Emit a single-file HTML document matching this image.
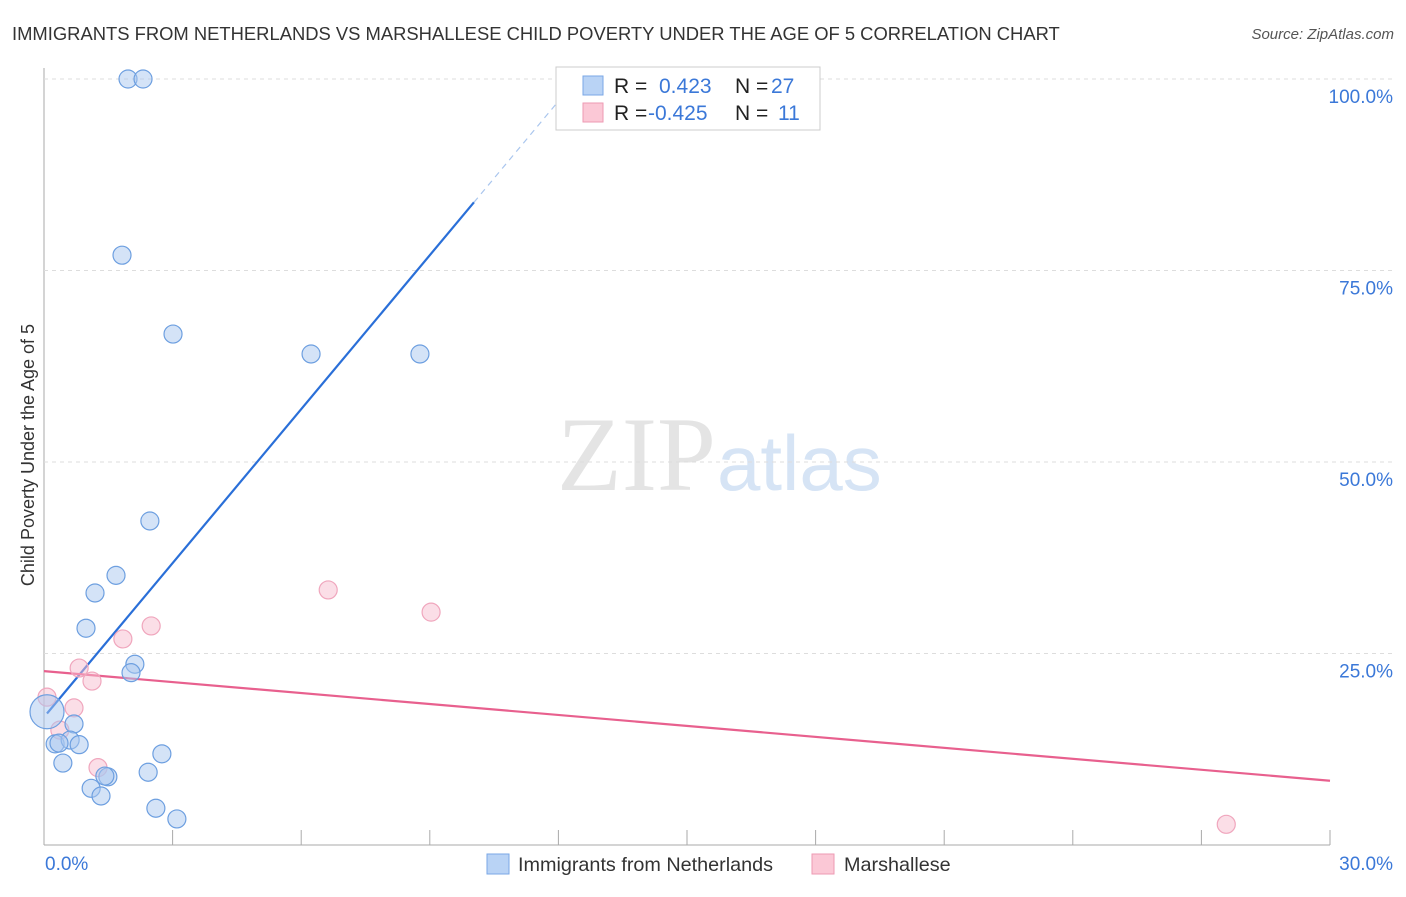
<!DOCTYPE html>
<html><head><meta charset="utf-8"><style>
body{margin:0;background:#fff;font-family:"Liberation Sans",sans-serif;}
</style></head><body>
<svg width="1406" height="892" xmlns="http://www.w3.org/2000/svg" id="svg">
<text x="12" y="40" font-size="18.4" fill="#333">IMMIGRANTS FROM NETHERLANDS VS MARSHALLESE CHILD POVERTY UNDER THE AGE OF 5 CORRELATION CHART</text>
<text x="1394" y="39" font-size="15" fill="#555" font-style="italic" text-anchor="end">Source: ZipAtlas.com</text>
<text x="716" y="490" font-size="106" fill="#e4e4e4" text-anchor="end" font-family="Liberation Serif,serif">ZIP</text>
<text x="717" y="490" font-size="78" fill="#d6e4f5">atlas</text>
<text transform="translate(34,455) rotate(-90)" font-size="18" fill="#333" text-anchor="middle">Child Poverty Under the Age of 5</text>
<g id="grid"></g><g id="lines"></g><g id="pts"></g>
<rect x="556" y="67" width="264" height="63" fill="#fff" stroke="#ccc"/>
<rect x="583" y="76" width="20" height="19" fill="#b9d3f5" stroke="#7aa7e6"/>
<rect x="583" y="103" width="20" height="19" fill="#fbc8d6" stroke="#ee9ab3"/>
<g font-size="21">
<text x="614" y="93" fill="#222">R =</text><text x="659" y="93" fill="#3b78d8">0.423</text><text x="735" y="93" fill="#222">N =</text><text x="771" y="93" fill="#3b78d8">27</text>
<text x="614" y="120" fill="#222">R =</text><text x="648" y="120" fill="#3b78d8">-0.425</text><text x="735" y="120" fill="#222">N =</text><text x="778" y="120" fill="#3b78d8">11</text>
</g>
<rect x="487" y="854" width="22" height="20" fill="#b9d3f5" stroke="#7aa7e6"/>
<text x="518" y="871" font-size="19.8" fill="#333">Immigrants from Netherlands</text>
<rect x="812" y="854" width="22" height="20" fill="#fbc8d6" stroke="#ee9ab3"/>
<text x="844" y="871" font-size="19.8" fill="#333">Marshallese</text>
</svg>
<script>
const blueX=[1.96,2.31,1.82,3.01,6.23,8.77,2.47,1.68,1.19,0.98,2.12,2.03,0.07,0.70,0.26,0.61,0.82,0.44,2.75,2.43,1.49,1.42,1.10,1.33,2.61,3.10,0.35];
const blueY=[100,100,77.0,66.7,64.1,64.1,42.3,35.2,32.9,28.3,23.6,22.5,17.4,15.8,13.2,13.7,13.1,10.7,11.9,9.5,8.9,9.0,7.4,6.4,4.8,3.4,13.3];
const pinkX=[0.07,0.70,0.82,1.12,1.84,2.50,6.63,9.03,0.37,1.26,27.58];
const pinkY=[19.3,17.9,23.1,21.4,26.9,28.6,33.3,30.4,15.0,10.1,2.7];
const yTicks=[25,50,75,100];
const xTickLabels=["0.0%","30.0%"];
const blueTrend=[16.7,6.7]; const pinkTrend=[22.7,-0.477];
const X=v=>44+v/30*1286, Y=v=>845-v/100*766;
const NS="http://www.w3.org/2000/svg";
function mk(t,a,p){const e=document.createElementNS(NS,t);for(const k in a)e.setAttribute(k,a[k]);document.getElementById(p).appendChild(e);return e;}
let e=mk('line',{x1:44,y1:68,x2:44,y2:845,stroke:'#aaa'},'grid');


e=mk('line',{x1:44,y1:845,x2:1330,y2:845,stroke:'#aaa'},'grid');


yTicks.forEach(t=>{
 e=mk('line',{x1:44,y1:Y(t),x2:1394,y2:Y(t),stroke:'#ddd','stroke-dasharray':'4,4'},'grid');
 
 
 e=mk('text',{x:1393,y:Y(t)+24,'font-size':19,fill:'#3b78d8','text-anchor':'end'},'grid');e.textContent=t.toFixed(1)+'%';
 
 
});
for(let i=0;i<=10;i++){e=mk('line',{x1:X(i*3),y1:830,x2:X(i*3),y2:845,stroke:'#aaa'},'grid');
 
 }
e=mk('text',{x:45,y:870,'font-size':19,fill:'#3b78d8'},'grid');e.textContent=xTickLabels[0];


e=mk('text',{x:1393,y:870,'font-size':19,fill:'#3b78d8','text-anchor':'end'},'grid');e.textContent=xTickLabels[1];


const bx1=(100-blueTrend[0])/blueTrend[1];
e=mk('line',{x1:X(0.07),y1:Y(blueTrend[0]+blueTrend[1]*0.07),x2:X(10.03),y2:Y(blueTrend[0]+blueTrend[1]*10.03),stroke:'#2a6fd8','stroke-width':2.2},'lines');


e=mk('line',{x1:X(10.03),y1:Y(blueTrend[0]+blueTrend[1]*10.03),x2:X(bx1),y2:Y(100),stroke:'#aac6ee','stroke-width':1.2,'stroke-dasharray':'6,5'},'lines');


e=mk('line',{x1:X(0),y1:Y(pinkTrend[0]),x2:X(30),y2:Y(pinkTrend[0]+pinkTrend[1]*30),stroke:'#e8608e','stroke-width':2.2},'lines');


pinkX.forEach((x,i)=>{e=mk('circle',{cx:X(x),cy:Y(pinkY[i]),r:9,fill:'rgba(248,190,208,0.5)',stroke:'#f0a6bd','stroke-width':1.2},'pts');
 
 });
blueX.forEach((x,i)=>{e=mk('circle',{cx:X(x),cy:Y(blueY[i]),r:i==12?17:9,fill:'rgba(170,200,240,0.5)',stroke:'#6d9fe0','stroke-width':1.2},'pts');
 
 });
</script>
</body></html>
